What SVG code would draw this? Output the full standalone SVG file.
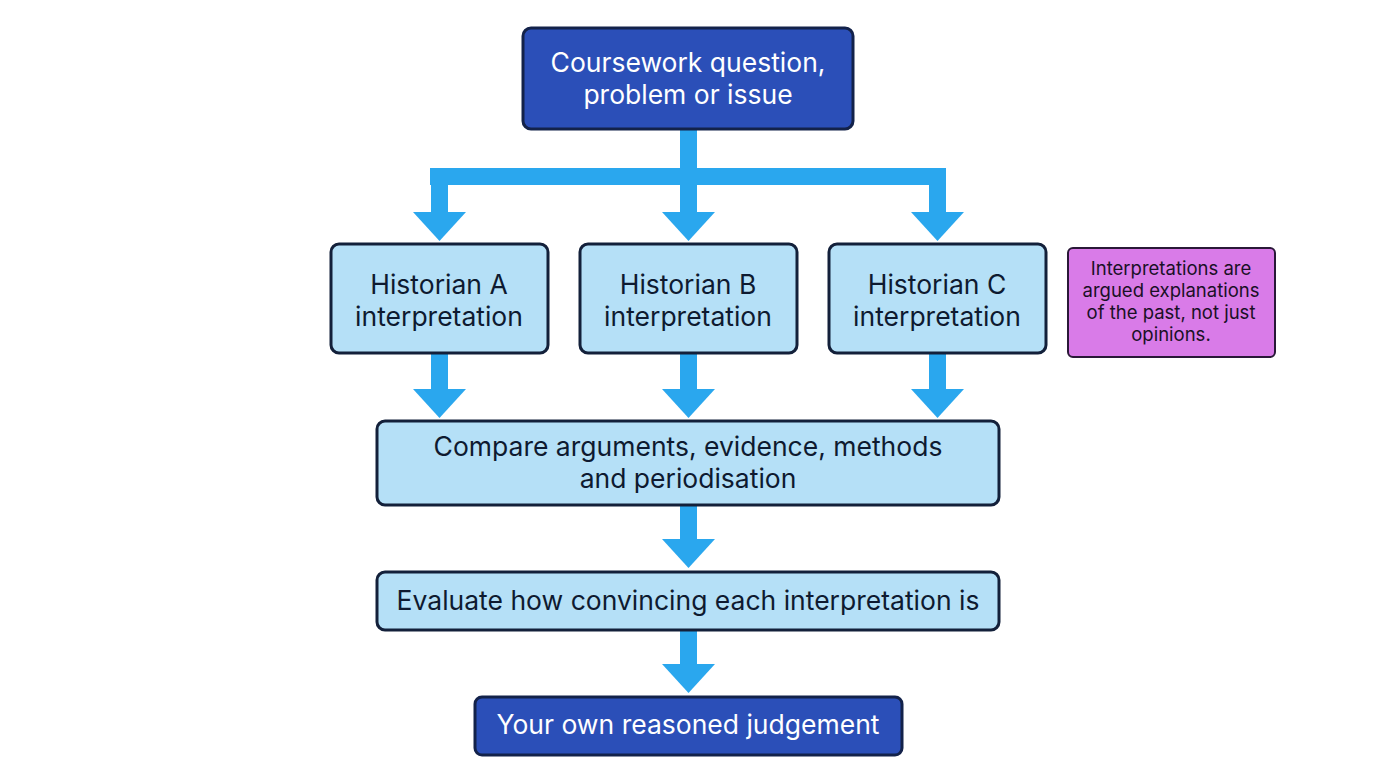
<svg xmlns="http://www.w3.org/2000/svg" width="1376" height="768" viewBox="0 0 1376 768">
<style>
.dark{fill:#2b4fb8;stroke:#13224a;stroke-width:3}
.light{fill:#b5e0f7;stroke:#13203a;stroke-width:3}
.note{fill:#d97be8;stroke:#2a1838;stroke-width:2}
.arr{fill:#2aa7ee}
text{font-family:Inter,"Liberation Sans",sans-serif;text-anchor:middle}
.w{fill:#fff;font-size:26.5px}
.b{fill:#0e1a30;font-size:26.5px}
.s{fill:#1a1026;font-size:18.5px}
</style>
<rect width="1376" height="768" fill="#fff"/>
<g id="connectors" class="arr">
<rect x="680" y="128" width="17" height="50"/>
<rect x="430" y="168" width="516" height="17"/>
<rect x="431" y="168" width="17" height="46"/>
<rect x="680" y="168" width="17" height="46"/>
<rect x="929" y="168" width="17" height="46"/>
<polygon points="413,212 466,212 439.5,241"/>
<polygon points="662,212 715,212 688.5,241"/>
<polygon points="911,212 964,212 937.5,241"/>
<rect x="431" y="353" width="17" height="38"/>
<rect x="680" y="353" width="17" height="38"/>
<rect x="929" y="353" width="17" height="38"/>
<polygon points="413,389 466,389 439.5,418"/>
<polygon points="662,389 715,389 688.5,418"/>
<polygon points="911,389 964,389 937.5,418"/>
<rect x="680" y="505" width="17" height="36"/>
<polygon points="662,539 715,539 688.5,568"/>
<rect x="680" y="630" width="17" height="36"/>
<polygon points="662,664 715,664 688.5,693"/>
</g>
<g id="top"><rect class="dark" x="523" y="28" width="330" height="101" rx="8"/>
<text class="w" x="688" y="72">Coursework question,</text><text class="w" x="688" y="104">problem or issue</text></g>
<g id="histA"><rect class="light" x="331" y="244" width="217" height="109" rx="8"/>
<text class="b" x="439" y="294">Historian A</text><text class="b" x="439" y="326">interpretation</text></g>
<g id="histB"><rect class="light" x="580" y="244" width="217" height="109" rx="8"/>
<text class="b" x="688" y="294">Historian B</text><text class="b" x="688" y="326">interpretation</text></g>
<g id="histC"><rect class="light" x="829" y="244" width="217" height="109" rx="8"/>
<text class="b" x="937" y="294">Historian C</text><text class="b" x="937" y="326">interpretation</text></g>
<g id="note"><rect class="note" x="1068" y="248" width="207" height="109" rx="5"/>
<text class="s" x="1171" y="275">Interpretations are</text><text class="s" x="1171" y="297">argued explanations</text><text class="s" x="1171" y="319">of the past, not just</text><text class="s" x="1171" y="341">opinions.</text></g>
<g id="compare"><rect class="light" x="377" y="421" width="622" height="84" rx="8"/>
<text class="b" x="688" y="456">Compare arguments, evidence, methods</text><text class="b" x="688" y="488">and periodisation</text></g>
<g id="evaluate"><rect class="light" x="377" y="572" width="622" height="58" rx="8"/>
<text class="b" x="688" y="610">Evaluate how convincing each interpretation is</text></g>
<g id="judgement"><rect class="dark" x="475" y="697" width="427" height="58" rx="7"/>
<text class="w" x="688" y="734">Your own reasoned judgement</text></g>
</svg>
